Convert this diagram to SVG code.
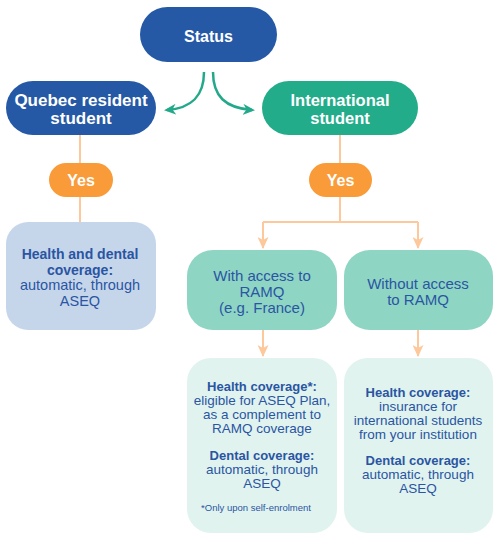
<svg xmlns="http://www.w3.org/2000/svg" width="500" height="540" viewBox="0 0 500 540">
<defs>
<style>
.t{font-family:"Liberation Sans",Arial,sans-serif;text-anchor:middle}
.w{fill:#ffffff;font-weight:bold;font-size:16px}
.b{fill:#2a55a3;font-size:13.5px}
.bb{fill:#2a55a3;font-size:13px;font-weight:bold}
.m{fill:#2a55a3;font-size:15px}
.oc{fill:none;stroke:#fdc89c;stroke-width:2}
.gc{fill:none;stroke:#23a98a;stroke-width:2.5}
</style>
<marker id="ag" markerWidth="12" markerHeight="11" refX="9" refY="5.5" orient="auto" markerUnits="userSpaceOnUse" viewBox="0 0 12 11"><path d="M0,0 L12,5.5 L0,11 L3.5,5.5 Z" fill="#23a98a"/></marker>
<marker id="ao2" markerWidth="12" markerHeight="11" refX="11" refY="5.5" orient="auto" markerUnits="userSpaceOnUse" viewBox="0 0 12 11"><path d="M0,0 L12,5.5 L0,11 L3,5.5 Z" fill="#fdc89c"/></marker>
</defs>
<rect width="500" height="540" fill="#ffffff"/>
<g id="connectors">
<path class="gc" d="M204,72 C204,96 192,108 167,110" marker-end="url(#ag)"/>
<path class="gc" d="M213,72 C213,96 225,108 252,110" marker-end="url(#ag)"/>
<path class="oc" d="M80,135 L80,222"/>
<path class="oc" d="M340,135 L340,222"/>
<path class="oc" d="M263,222 L418,222"/>
<path class="oc" d="M263,222 L263,248" marker-end="url(#ao2)"/>
<path class="oc" d="M418,222 L418,248" marker-end="url(#ao2)"/>
<path class="oc" d="M263,330 L263,356" marker-end="url(#ao2)"/>
<path class="oc" d="M418,330 L418,356" marker-end="url(#ao2)"/>
</g>
<g id="status">
<rect x="140" y="7" width="137" height="55" rx="27.5" fill="#2559a6"/>
<text class="t w" x="208.5" y="42">Status</text>
</g>
<g id="quebec">
<rect x="6" y="81" width="150" height="54" rx="27" fill="#2559a6"/>
<text class="t w" x="81" y="106" style="font-size:17px">Quebec resident</text>
<text class="t w" x="81" y="124" style="font-size:17px">student</text>
</g>
<g id="international">
<rect x="262" y="81" width="156" height="54" rx="27" fill="#22ac8a"/>
<text class="t w" x="340" y="106" style="font-size:16.5px">International</text>
<text class="t w" x="340" y="124" style="font-size:16.5px">student</text>
</g>
<g id="yes-left">
<rect x="49" y="163" width="64" height="34" rx="17" fill="#f99b38"/>
<text class="t w" x="81" y="185.5">Yes</text>
</g>
<g id="yes-right">
<rect x="309" y="163" width="63" height="34" rx="17" fill="#f99b38"/>
<text class="t w" x="340.5" y="185.5">Yes</text>
</g>
<g id="quebec-coverage">
<rect x="6" y="222" width="150" height="108" rx="22" fill="#c6d6ea"/>
<text class="t bb" x="80" y="259" style="font-size:14px">Health and dental</text>
<text class="t bb" x="80" y="274.5" style="font-size:14px">coverage:</text>
<text class="t m" x="80" y="290" style="font-size:14.5px">automatic, through</text>
<text class="t m" x="80" y="305.5" style="font-size:14.5px">ASEQ</text>
</g>
<g id="with-access">
<rect x="187" y="250" width="150" height="80" rx="26" fill="#8fd5c3"/>
<text class="t m" x="262" y="281">With access to</text>
<text class="t m" x="262" y="297">RAMQ</text>
<text class="t m" x="262" y="313">(e.g. France)</text>
</g>
<g id="without-access">
<rect x="344" y="250" width="149" height="80" rx="26" fill="#8fd5c3"/>
<text class="t m" x="418" y="289">Without access</text>
<text class="t m" x="418" y="305">to RAMQ</text>
</g>
<g id="with-coverage">
<rect x="187" y="358" width="150" height="175" rx="24" fill="#e0f3ee"/>
<text class="t bb" x="262" y="391">Health coverage*:</text>
<text class="t b" x="262" y="405">eligible for ASEQ Plan,</text>
<text class="t b" x="262" y="419">as a complement to</text>
<text class="t b" x="262" y="433">RAMQ coverage</text>
<text class="t bb" x="262" y="460">Dental coverage:</text>
<text class="t b" x="262" y="474">automatic, through</text>
<text class="t b" x="262" y="488">ASEQ</text>
<text class="t" x="256" y="511" style="fill:#2a55a3;font-size:9.5px">*Only upon self-enrolment</text>
</g>
<g id="without-coverage">
<rect x="344" y="358" width="149" height="175" rx="24" fill="#e0f3ee"/>
<text class="t bb" x="418" y="397">Health coverage:</text>
<text class="t b" x="418" y="411">insurance for</text>
<text class="t b" x="418" y="425">international students</text>
<text class="t b" x="418" y="439">from your institution</text>
<text class="t bb" x="418" y="465">Dental coverage:</text>
<text class="t b" x="418" y="479">automatic, through</text>
<text class="t b" x="418" y="493">ASEQ</text>
</g>
</svg>
